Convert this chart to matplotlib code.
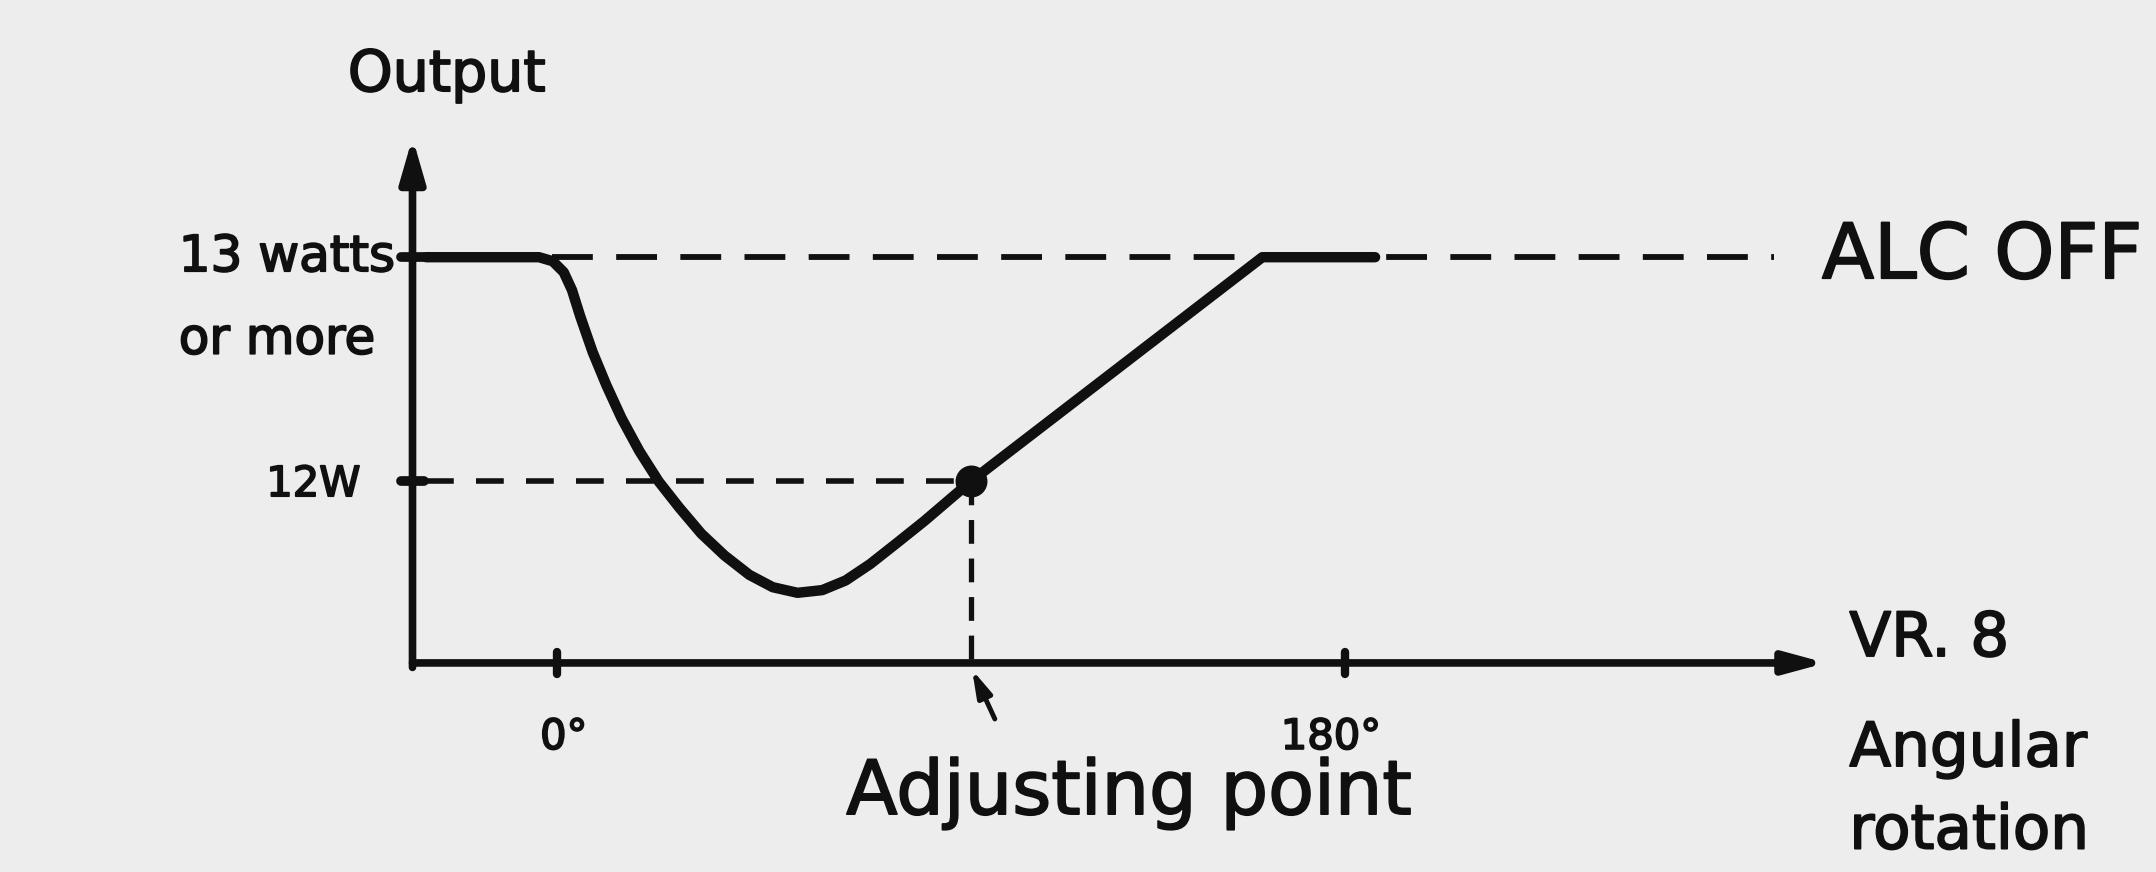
import matplotlib
matplotlib.use("Agg")
import matplotlib.pyplot as plt
import matplotlib.patheffects as pe

# ---- data ----
curve_deg = [-29.85, -4.08, -0.94, 1.57, 3.46, 5.34, 8.17, 11.31, 14.77, 18.85, 23.25,
             27.96, 32.99, 38.33, 43.98, 49.32, 54.98, 60.63, 65.97, 71.63, 77.60,
             83.88, 94.56, 161.17, 186.93]
curve_w = [13.000, 13.000, 12.982, 12.933, 12.853, 12.736, 12.577, 12.429, 12.282,
           12.135, 12.000, 11.883, 11.767, 11.669, 11.583, 11.528, 11.503, 11.515,
           11.558, 11.632, 11.724, 11.822, 12.000, 13.000, 13.000]
level_max = 13.0      # "13 watts or more" (ALC OFF)
level_adj = 12.0      # 12W
adjust_deg = 94.56    # adjusting point
tick_degs = [0, 180]
tick_labels = ["0°", "180°"]

FONT = ["DejaVu Sans"]
plt.rcParams["font.family"] = FONT
INK = "#101010"
BG = "#ededed"
BOLDEN = [pe.withStroke(linewidth=1.3, foreground=INK)]

fig = plt.figure(figsize=(21.56, 8.72), dpi=100, facecolor=BG)
ax = fig.add_axes([0, 0, 1, 1])
ax.set_facecolor(BG)
ax.axis("off")

s = 180 / 573.0
ax.set_xlim(-405 * s, (1568 - 405) * s)
ax.set_ylim(13 - (634 - 187) / 163.0, 13 + 187 / 163.0)

x0 = (300 - 405) * s           # y-axis position
y0 = 13 - (482 - 187) / 163.0  # x-axis position
y_tip = 13 - (100 - 187) / 163.0
x_tip = (1328 - 405) * s

# axes with arrows
ax.annotate("", xy=(x0, y_tip), xytext=(x0, y0 - 0.02),
            arrowprops=dict(arrowstyle="-|>,head_length=2.6,head_width=0.75", lw=5.5,
                            color=INK, shrinkA=0, shrinkB=0))
ax.annotate("", xy=(x_tip, y0), xytext=(x0, y0),
            arrowprops=dict(arrowstyle="-|>,head_length=2.4,head_width=0.65", lw=5.5,
                            color=INK, shrinkA=0, shrinkB=0))

# tick marks
for lv in (level_max, level_adj):
    ax.plot([x0 - 2.6, x0 + 2.6], [lv, lv], color=INK, lw=7, solid_capstyle="round")
for d in tick_degs:
    ax.plot([d, d], [y0 - 0.05, y0 + 0.05], color=INK, lw=6, solid_capstyle="round")

# dashed reference lines
ax.plot([-1.0, (1290 - 405) * s], [level_max, level_max], color=INK, lw=4.2,
        linestyle=(0, (7.0, 4.0)))
ax.plot([x0 + 3, adjust_deg], [level_adj, level_adj], color=INK, lw=4.0,
        linestyle=(0, (5.0, 4.0)))
ax.plot([adjust_deg, adjust_deg], [level_adj, y0], color=INK, lw=3.8,
        linestyle=(0, (4.5, 2.8)))

# main curve
ax.plot(curve_deg, curve_w, color=INK, lw=7.5, solid_joinstyle="round",
        solid_capstyle="round", zorder=4)
ax.plot([adjust_deg], [level_adj], "o", color=INK, ms=22, zorder=5)

# pointer under adjusting point
ax.annotate("", xy=(adjust_deg + 0.3, y0 - 0.03), xytext=(adjust_deg + 5.5, y0 - 0.25),
            arrowprops=dict(arrowstyle="-|>,head_length=1.6,head_width=0.45", lw=3.5,
                            color=INK, shrinkA=0, shrinkB=0))

# tick labels
xpos = [410, 968]
for d, lab, xp in zip(tick_degs, tick_labels, xpos):
    ax.text((xp - 405) * s, y0 - 0.33, lab, ha="center", va="center", fontsize=30,
            color=INK, path_effects=BOLDEN)

# texts
def ftext(xd, yd, t, **kw):
    fig.text(xd / 1568, 1 - yd / 634, t, color=INK, path_effects=BOLDEN, **kw)

ftext(325, 55, "Output", ha="center", va="center", fontsize=41)
ftext(130, 187, "13 watts", ha="left", va="center", fontsize=36)
ftext(130, 247, "or more", ha="left", va="center", fontsize=36)
ftext(262, 352, "12W", ha="right", va="center", fontsize=30)
ftext(821, 577, "Adjusting point", ha="center", va="center", fontsize=54)
ftext(1325, 187, "ALC OFF", ha="left", va="center", fontsize=55)
ftext(1345, 465, "VR. 8", ha="left", va="center", fontsize=44)
ftext(1345, 545, "Angular", ha="left", va="center", fontsize=44)
ftext(1345, 605, "rotation", ha="left", va="center", fontsize=44)

fig.savefig("out.png", dpi=100, facecolor=BG)
